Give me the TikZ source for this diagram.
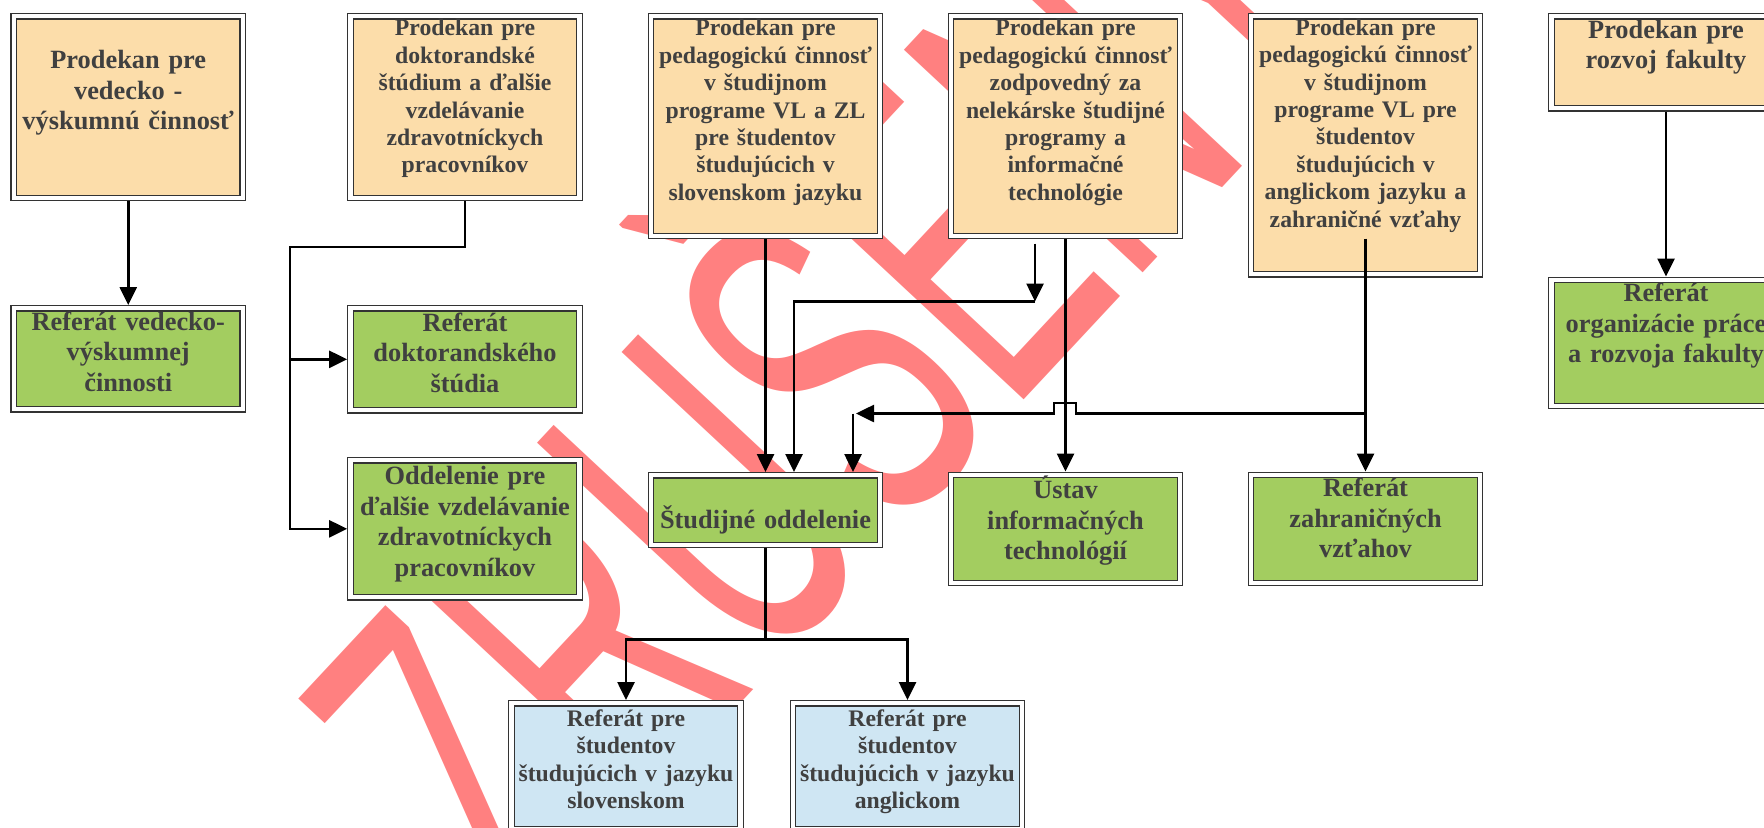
\documentclass[tikz,border=0pt]{standalone}
\usepackage{fontspec}
\setmainfont{Liberation Serif}
\newfontfamily\stampfont{Liberation Sans}
\usetikzlibrary{arrows.meta, positioning}

\definecolor{headfill}{RGB}{252,221,170}
\definecolor{deptfill}{RGB}{163,205,96}
\definecolor{subfill}{RGB}{207,230,243}
\definecolor{txtgray}{RGB}{64,64,64}
\definecolor{stampred}{RGB}{255,128,128}

\tikzset{
  unit/.style={draw=black!80, line width=0.7pt, double=white, double distance=2.4pt,
    outer sep=1.9pt, text width=4.46cm, inner xsep=0.06cm, inner ysep=0pt,
    align=center, anchor=north, text=txtgray},
  big/.style={font=\fontsize{15}{17.3}\selectfont\bfseries},
  small/.style={font=\fontsize{13.5}{15.6}\selectfont\bfseries},
  head/.style={unit, fill=headfill},
  dept/.style={unit, fill=deptfill},
  sub/.style={unit, fill=subfill},
  link/.style={line width=1.5pt},
  arr/.style={link, -{Triangle[length=0.36cm, width=0.34cm]}},
  stamp/.style={text=stampred, font=\stampfont\fontsize{270}{270}\selectfont,
    rotate=47, xscale=0.55, anchor=base west, inner sep=0pt},
}

\begin{document}
\begin{tikzpicture}
\useasboundingbox (0,0) rectangle (35.28,-16.54);

% Stamp
\node[stamp] (wm) at (10.5,-18.7) {ZRUŠENÝ};

% Nodes
\node[head, big, text height=1.05cm, text depth=2.58cm] (vv) at (2.565,-0.26) {Prodekan pre\\vedecko -\\výskumnú činnosť};
\node[head, small, text height=0.39cm, text depth=3.24cm] (dok) at (9.3,-0.26) {Prodekan pre\\doktorandské\\štúdium a ďalšie\\vzdelávanie\\zdravotníckych\\pracovníkov};
\node[head, small, text height=0.39cm, text depth=4.0cm] (ped) at (15.31,-0.26) {Prodekan pre\\pedagogickú činnosť\\v študijnom\\programe VL a ZL\\pre študentov\\študujúcich v\\slovenskom jazyku};
\node[head, small, text height=0.39cm, text depth=4.0cm] (nel) at (21.31,-0.26) {Prodekan pre\\pedagogickú činnosť\\zodpovedný za\\nelekárske študijné\\programy a\\informačné\\technológie};
\node[head, small, text height=0.38cm, text depth=4.78cm] (ang) at (27.31,-0.26) {Prodekan pre\\pedagogickú činnosť\\v študijnom\\programe VL pre\\študentov\\študujúcich v\\anglickom jazyku a\\zahraničné vzťahy};
\node[head, big, text height=0.44cm, text depth=1.40cm] (roz) at (33.32,-0.26) {Prodekan pre\\rozvoj fakulty};

\node[dept, big, text height=0.44cm, text depth=1.58cm] (refvv) at (2.565,-6.1) {Referát vedecko-\\výskumnej\\činnosti};
\node[dept, big, text height=0.46cm, text depth=1.58cm] (refdok) at (9.3,-6.1) {Referát\\doktorandského\\štúdia};
\node[dept, big, text height=0.49cm, text depth=2.25cm] (odd) at (9.3,-9.14) {Oddelenie pre\\ďalšie vzdelávanie\\zdravotníckych\\pracovníkov};
\node[dept, big, text height=1.07cm, text depth=0.32cm] (stud) at (15.31,-9.44) {Študijné oddelenie};
\node[dept, big, text height=0.48cm, text depth=1.68cm] (ustav) at (21.31,-9.43) {Ústav\\informačných\\technológií};
\node[dept, big, text height=0.44cm, text depth=1.72cm] (zahr) at (27.31,-9.43) {Referát\\zahraničných\\vzťahov};
\node[dept, big, text height=0.44cm, text depth=2.08cm] (refroz) at (33.32,-5.53) {Referát\\organizácie práce\\a rozvoja fakulty};

\node[sub, small, text height=0.46cm, text depth=2.06cm] (refsk) at (12.52,-14.0) {Referát pre\\študentov\\študujúcich v jazyku\\slovenskom};
\node[sub, small, text height=0.46cm, text depth=2.06cm] (refen) at (18.15,-14.0) {Referát pre\\študentov\\študujúcich v jazyku\\anglickom};

% Joints
\coordinate (dj) at (5.8,-4.94);
\coordinate (nj) at (20.7,-6.03);
\coordinate (aj) at (27.31,-8.27);
\coordinate (sj) at (17.06,-8.27);
\coordinate (bj) at (15.31,-12.79);

% Arrows
\draw[arr] (vv) -- (refvv);
\draw[arr] (dok.south) |- (dj) |- (odd.west);
\draw[arr] (dj |- refdok.west) -- (refdok.west);
\draw[arr] (ped.south) -- (stud.north);
\draw[arr] ([yshift=-0.09cm]nj |- nel.south) -- (nj);
\draw[arr] (nj) -| ([xshift=0.57cm]stud.north);
\draw[arr] (nel.south) -- (ustav.north);
\draw[arr] ([yshift=0.78cm]ang.south) -- (zahr.north);
\draw[arr] (aj) -- ++(-5.79,0) -- ++(0,0.21) -- ++(-0.44,0) -- ++(0,-0.21) -- ([xshift=0.06cm]sj);
\draw[arr] (sj) -- (sj |- stud.north);
\draw[arr] (roz) -- (refroz);
\draw[link] (stud.south) -- (bj);
\draw[arr] (bj) -| (refsk.north);
\draw[arr] (bj) -| (refen.north);
\end{tikzpicture}
\end{document}
